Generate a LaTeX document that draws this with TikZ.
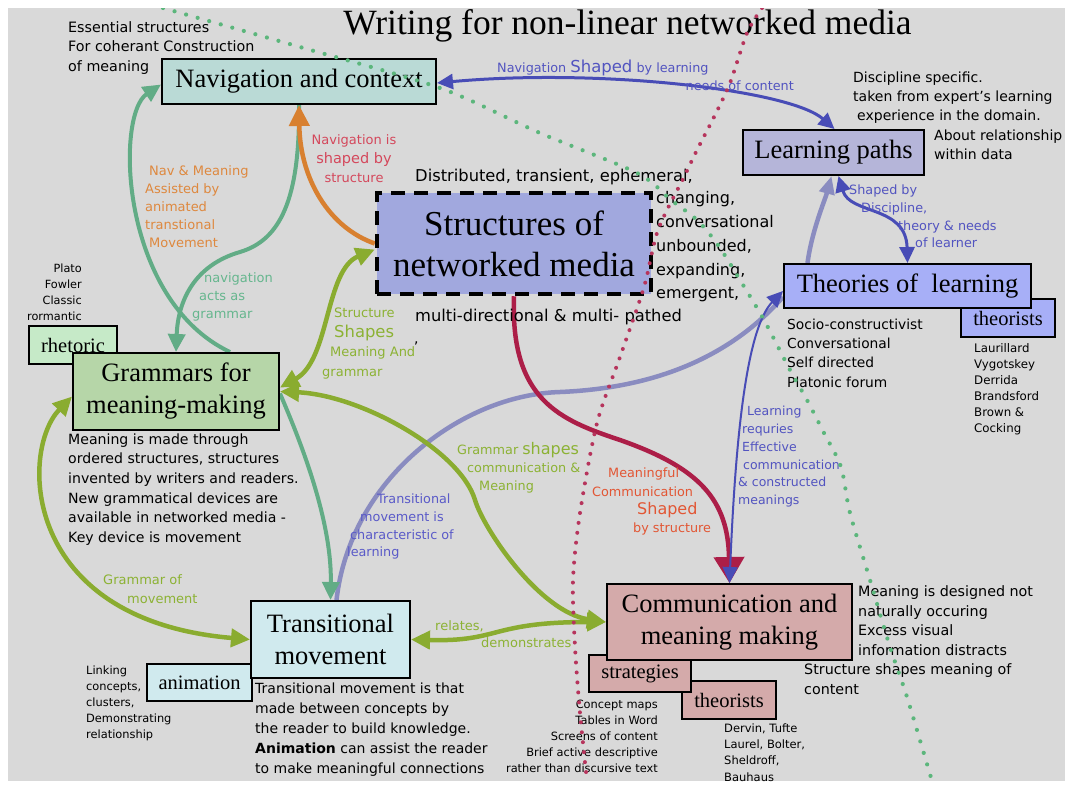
\documentclass[tikz,border=0pt]{standalone}
\usepackage{fontspec}
\setmainfont{DejaVu Sans}
\newfontfamily\serifbox{Liberation Serif}
\usetikzlibrary{arrows.meta,shapes}

\definecolor{paper}{RGB}{217,217,217}
\definecolor{navfill}{RGB}{186,218,214}
\definecolor{learnfill}{RGB}{181,181,217}
\definecolor{structfill}{RGB}{161,168,222}
\definecolor{theofill}{RGB}{167,175,247}
\definecolor{gramfill}{RGB}{182,214,168}
\definecolor{rhetfill}{RGB}{198,234,200}
\definecolor{transfill}{RGB}{208,234,238}
\definecolor{commfill}{RGB}{212,170,170}
\definecolor{tealc}{RGB}{98,172,134}
\definecolor{olivec}{RGB}{138,172,48}
\definecolor{orangec}{RGB}{216,128,48}
\definecolor{bluec}{RGB}{72,76,182}
\definecolor{lavc}{RGB}{138,140,192}
\definecolor{crimsonc}{RGB}{172,30,72}
\definecolor{dotgreen}{RGB}{92,182,124}
\definecolor{dotred}{RGB}{182,52,92}
\definecolor{bluetxt}{RGB}{82,84,192}
\definecolor{redtxt}{RGB}{212,72,92}
\definecolor{orangetxt}{RGB}{222,136,62}
\definecolor{tealtxt}{RGB}{102,182,142}
\definecolor{olivetxt}{RGB}{140,178,52}
\definecolor{lavtxt}{RGB}{90,90,200}
\definecolor{orredtxt}{RGB}{226,86,52}

\pgfdeclarelayer{bg}
\pgfdeclarelayer{lines}
\pgfdeclarelayer{front}
\pgfsetlayers{bg,lines,main,front}

\begin{document}
\begin{tikzpicture}
[x=1pt,y=-1pt]
\tikzset{
	box/.style = {draw, line width=2pt, inner sep=0, align=center, font=\serifbox\fontsize{26.5}{32}\selectfont},
	tagbox/.style = {draw, line width=2pt, inner sep=0, font=\serifbox\fontsize{20.5}{24}\selectfont},
	notetext/.style = {inner sep=0, anchor=north west, align=left, font=\fontsize{14}{19.6}\selectfont},
	smalltext/.style = {inner sep=0, anchor=north west, align=left, font=\fontsize{11.4}{16}\selectfont},
	lbltext/.style = {inner sep=0, anchor=north west, align=left, font=\fontsize{12.8}{17.7}\selectfont},
	tealarrow/.style = {draw=tealc, line width=4pt, -{Triangle[length=18pt,width=17pt]}},
	orangearrow/.style = {draw=orangec, line width=4.5pt, -{Triangle[length=21pt,width=20pt]}},
	olivearrow/.style = {draw=olivec, line width=4.5pt, {Triangle[length=19pt,width=18pt]}-{Triangle[length=19pt,width=18pt]}},
	bluearrow/.style = {draw=bluec, line width=3pt, {Triangle[length=16pt,width=15pt]}-{Triangle[length=16pt,width=15pt]}},
	lavline/.style = {draw=lavc, line width=4.5pt},
	greendots/.style = {draw=dotgreen, line width=4.2pt, line cap=round, dash pattern=on 0pt off 12pt},
	reddots/.style = {draw=dotred, line width=4pt, line cap=round, dash pattern=on 0pt off 10pt}
}

\useasboundingbox (0,0) rectangle (1065,785);
\begin{pgfonlayer}{bg}
\fill[white] (0,0) rectangle (1065,785);
\fill[paper] (8,8) rectangle (1065,781);
\end{pgfonlayer}

\node[font=\serifbox\fontsize{35.5}{40}\selectfont, anchor=base, inner sep=0] (title) at (627.5,34) {Writing for non-linear networked media};

% boxes, back ones first
\node[tagbox, fill=rhetfill, minimum width=88pt, minimum height=38pt] (rhet) at (73,345) {rhetoric};
\node[box, fill=gramfill, minimum width=206pt, minimum height=77pt] (gram) at (176,391.5) {Grammars for\\meaning-making};
\node[box, fill=navfill, minimum width=274pt, minimum height=45pt] (nav) at (299,81.5) {Navigation and context};
\node[box, fill=learnfill, minimum width=181pt, minimum height=45pt] (learn) at (833.5,152.5) {Learning paths};
\node[box, fill=structfill, line width=4.5pt, dash pattern=on 14pt off 9pt, minimum width=274pt, minimum height=101pt, font=\serifbox\fontsize{35}{41}\selectfont] (struct) at (514,243.5) {Structures of\\networked media};
\node[tagbox, fill=theofill, minimum width=94pt, minimum height=38pt] (theo2) at (1008,318) {theorists};
\node[box, fill=theofill, minimum width=247pt, minimum height=44pt] (theo) at (907.5,286) {Theories of\ \ learning};
\node[tagbox, fill=transfill, minimum width=105pt, minimum height=37pt] (anim) at (199.5,682.5) {animation};
\node[box, fill=transfill, minimum width=159pt, minimum height=77pt] (trans) at (330.5,639.5) {Transitional\\movement};
\node[tagbox, fill=commfill, minimum width=94pt, minimum height=38pt] (theo3) at (729,700) {theorists};
\node[tagbox, fill=commfill, minimum width=102pt, minimum height=37pt] (strat) at (640,673.5) {strategies};
\node[box, fill=commfill, minimum width=245pt, minimum height=76pt] (comm) at (729.5,622) {Communication and\\meaning making};

% black notes
\node[notetext, font=\fontsize{14.3}{19.5}\selectfont] (essent) at (68,21) {Essential structures\\For coherant Construction\\of meaning};
\node[notetext, font=\fontsize{16.3}{20}\selectfont] (distrib) at (415,168.5) {Distributed, transient, ephemeral,};
\node[notetext, font=\fontsize{16}{23.7}\selectfont] (traits) at (656,191.6) {changing,\\conversational\\unbounded,\\expanding,\\emergent,};
\node[notetext, font=\fontsize{16.3}{20}\selectfont] (pathed) at (415,308.5) {multi-directional \& multi- pathed};
\node[notetext, anchor=base west] (comma) at (414,343) {,};
\node[notetext, font=\fontsize{14}{19}\selectfont] (discip) at (853,71.4) {Discipline specific.\\taken from expert's learning\\\hspace*{4pt}experience in the domain.};
\node[notetext, font=\fontsize{14}{19}\selectfont] (relat) at (934,129.4) {About relationship\\within data};
\node[notetext, font=\fontsize{13.8}{19.3}\selectfont] (socio) at (787,318.5) {Socio-constructivist\\Conversational\\Self directed\\Platonic forum};
\node[smalltext, font=\fontsize{11.8}{16}\selectfont] (names) at (974,343.3) {Laurillard\\Vygotskey\\Derrida\\Brandsford\\Brown \&\\Cocking};
\node[smalltext, font=\fontsize{11.3}{16}\selectfont, anchor=north east, align=right] (plato) at (82,263.5) {Plato\\Fowler\\Classic\\rormantic};
\node[notetext, font=\fontsize{14.1}{19.6}\selectfont] (gramnote) at (68,433.4) {Meaning is made through\\ordered structures, structures\\invented by writers and readers.\\New grammatical devices are\\available in networked media -\\Key device is movement};
\node[notetext, font=\fontsize{14}{20}\selectfont] (transnote) at (255,682.4) {Transitional movement is that\\made between concepts by\\the reader to build knowledge.\\\textbf{Animation} can assist the reader\\to make meaningful connections};
\node[smalltext] (animnote) at (86,665.4) {Linking\\concepts,\\clusters,\\Demonstrating\\relationship};
\node[smalltext, anchor=north east, align=right] (stratnote) at (658,699.4) {Concept maps\\Tables in Word\\Screens of content\\Brief active descriptive\\rather than discursive text};
\node[smalltext, font=\fontsize{11.5}{16.3}\selectfont] (theonames) at (724,723.4) {Dervin, Tufte\\Laurel, Bolter,\\Sheldroff,\\Bauhaus};
\node[notetext, font=\fontsize{14.3}{19.7}\selectfont] (commnote) at (858,585.3) {Meaning is designed not\\naturally occuring\\Excess visual\\information distracts};
\node[notetext, font=\fontsize{14.3}{20}\selectfont] (shapenote) at (804,663.3) {Structure shapes meaning of\\content};

% coloured labels
\node[lbltext, text=bluetxt, anchor=base west] (navlearn) at (497,72.2) {Navigation {\fontsize{16.5}{18}\selectfont Shaped} by learning};
\node[lbltext, text=bluetxt, anchor=base east] (navneeds) at (794,90.2) {needs of content};
\node[lbltext, text=redtxt, anchor=north, align=center, font=\fontsize{13}{19}\selectfont] (navshape) at (354,134.8) {Navigation is\\{\fontsize{14.5}{19}\selectfont shaped by}\\structure};
\node[lbltext, text=orangetxt, font=\fontsize{13}{18}\selectfont] (navassist) at (145,165.8) {\hspace*{4pt}Nav \& Meaning\\Assisted by\\animated\\transtional\\\hspace*{4pt}Movement};
\node[lbltext, text=tealtxt, font=\fontsize{13}{17.7}\selectfont] (navgram) at (192,272.8) {\hspace*{12pt}navigation\\\hspace*{7pt}acts as\\grammar};
\node[lbltext, text=olivetxt, font=\fontsize{13}{19.5}\selectfont] (structshape) at (322,307.9) {\hspace*{12pt}Structure\\\hspace*{12pt}{\fontsize{16.4}{19.5}\selectfont Shapes}\\\hspace*{8pt}Meaning And\\grammar};
\node[lbltext, text=olivetxt, font=\fontsize{12.8}{18}\selectfont] (gramshape) at (457,441.9) {Grammar {\fontsize{16}{18}\selectfont shapes}\\\hspace*{10pt}communication \&\\\hspace*{22pt}Meaning};
\node[lbltext, text=lavtxt] (transchar) at (347,493.9) {\hspace*{30pt}Transitional\\\hspace*{13pt}movement is\\\hspace*{3pt}characteristic of\\learning};
\node[lbltext, text=orredtxt, font=\fontsize{12.8}{18.3}\selectfont] (meanshape) at (592,467.8) {\hspace*{16pt}Meaningful\\Communication\\\hspace*{45pt}{\fontsize{16}{18.3}\selectfont Shaped}\\\hspace*{41pt}by structure};
\node[lbltext, text=bluetxt, font=\fontsize{12.5}{17.8}\selectfont] (learnreq) at (738,406) {\hspace*{9pt}Learning\\\hspace*{4pt}requries\\\hspace*{4pt}Effective\\\hspace*{5pt}communication\\\& constructed\\meanings};
\node[lbltext, text=bluetxt] (discshape) at (849,184.9) {Shaped by\\\hspace*{12pt}Discipline,\\\hspace*{49pt}theory \& needs\\\hspace*{66pt}of learner};
\node[lbltext, text=olivetxt, font=\fontsize{13}{19}\selectfont] (gramofmove) at (103,574.8) {Grammar of\\\hspace*{24pt}movement};
\node[lbltext, text=olivetxt, font=\fontsize{13}{17}\selectfont] (relates) at (435,620.8) {relates,\\\hspace*{46pt}demonstrates};

% connectors
\begin{pgfonlayer}{lines}
\path[lavline] ([xshift=6pt]trans.north) .. controls (350,480) and (460,395) .. (560,392)
	.. controls (680,387) and (745,340) .. ([yshift=12pt]theo.south west);
\path[lavline, -{Triangle[length=18pt,width=15pt]}] ([xshift=-100pt]theo.north) .. controls (812,230) and (825,200) .. ([xshift=-2pt]learn.south);
\path[tealarrow] ([xshift=54pt]gram.north) .. controls (120,300) and (115,115) .. ([yshift=-3pt]nav.west);
\path[tealarrow] (nav.south) .. controls (300,200) and (280,240) .. (240,252)
	.. controls (195,265) and (178,300) .. (gram.north);
\path[tealarrow] ([yshift=-2pt]gram.east) .. controls (300,440) and (332,520) .. (trans.north);
\path[orangearrow] (struct.west) .. controls (330,228) and (300,180) .. (nav.south);
\path[olivearrow] ([yshift=4pt]gram.east) .. controls (330,360) and (325,270) .. ([yshift=-6pt]struct.west);
\path[olivearrow] (gram.east) .. controls (360,395) and (460,450) .. (475,500)
	.. controls (484,530) and (540,612) .. (comm.west);
\path[olivearrow] ([yshift=-5pt]gram.west) .. controls (20,450) and (20,620) .. (trans.west);
\path[olivearrow] (trans.east) .. controls (500,642) and (490,622) .. (comm.west);
\path[bluearrow] ([yshift=-1.5pt]nav.east) .. controls (600,68) and (790,90) .. ([xshift=1pt]learn.north);
\path[bluearrow] ([xshift=5pt]learn.south) .. controls (850,215) and (906,205) .. (theo.north);
\path[draw=crimsonc, line width=4.5pt, -{Triangle[length=26pt,width=30pt]}] (struct.south) .. controls (510,400) and (560,420) .. (620,440)
	.. controls (700,468) and (728,500) .. (comm.north);
\path[bluearrow, line width=2pt] (comm.north) .. controls (735,450) and (745,330) .. ([yshift=18pt]theo.south west);
\end{pgfonlayer}

% dotted guides
\begin{pgfonlayer}{front}
\begin{scope}
\clip (8,8) rectangle (1065,781);
\draw[greendots] plot[smooth] coordinates {(163,8) (300,47) (440,88) (540,133) (637,173) (671,200) (697,220) (718,245) (740,280) (764,320) (790,370) (807,400) (824,433) (841,467) (850,513) (870,580) (890,647) (907,697) (932,781)};
\draw[reddots] plot[smooth] coordinates {(762,8) (747,33) (730,83) (714,117) (697,150) (684,177) (658,230) (644,287) (620,357) (597,423) (580,513) (573,580) (575,647) (580,713) (587,781)};
\end{scope}
\end{pgfonlayer}
\end{tikzpicture}
\end{document}
